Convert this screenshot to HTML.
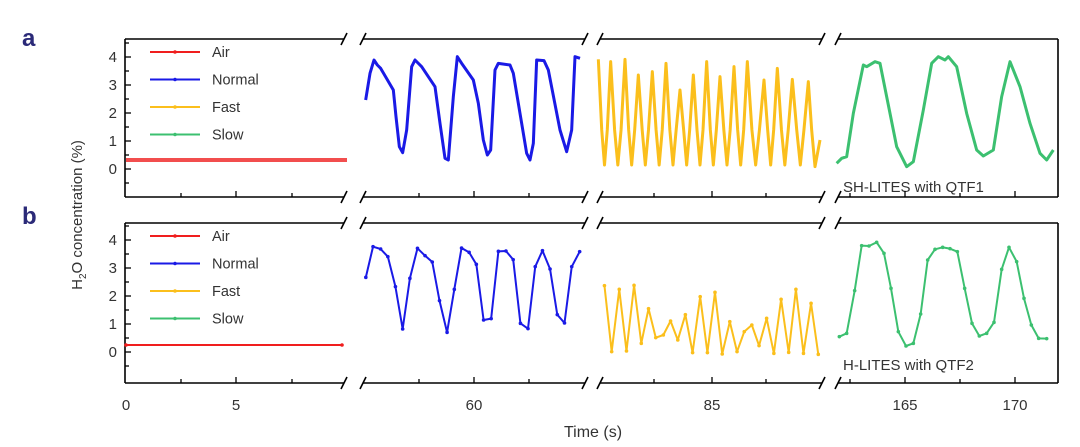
<!DOCTYPE html>
<html><head><meta charset="utf-8"><style>
body{margin:0;background:#fff}
svg{display:block;font-family:"Liberation Sans",sans-serif}
</style></head><body>
<svg id="s" width="1080" height="447" viewBox="0 0 1080 447" xmlns="http://www.w3.org/2000/svg">
<text x="22" y="46" font-size="24" font-weight="bold" fill="#2b2a78">a</text>
<text x="22" y="224" font-size="24" font-weight="bold" fill="#2b2a78">b</text>
<text transform="translate(82,215) rotate(-90)" font-size="15" fill="#333" text-anchor="middle">H<tspan font-size="10" dy="4">2</tspan><tspan dy="-4">O concentration (%)</tspan></text>
<text x="593" y="437" font-size="16" fill="#333" text-anchor="middle">Time (s)</text>
<g font-size="15" fill="#333" text-anchor="middle">
<text x="126" y="410">0</text><text x="236" y="410">5</text><text x="474" y="410">60</text><text x="712" y="410">85</text><text x="905" y="410">165</text><text x="1015" y="410">170</text>
</g>
<text x="843" y="192" font-size="15" fill="#333">SH-LITES with QTF1</text>
<text x="843" y="370" font-size="15" fill="#333">H-LITES with QTF2</text>
<g id="g"></g>
</svg>
<script>
const g=document.getElementById('g');let h='';
const segs=[[125,344],[363,585],[600,822],[838,1058]];
const col={r:'#f01e1e',b:'#1a1ae6',y:'#fbbf1c',gr:'#3cc070'};
function panel(top,bot,y4){
 const u=28;const y0=y4+4*u;
 h+=`<line x1="125" y1="${top}" x2="125" y2="${bot}" stroke="#000" stroke-width="1.6"/>`;
 h+=`<line x1="1058" y1="${top}" x2="1058" y2="${bot}" stroke="#000" stroke-width="1.6"/>`;
 for(let v=-0.5;v<=4.5;v+=0.5){const y=y0-v*u;if(y<top+2)continue;const maj=Number.isInteger(v);
  h+=`<line x1="125" y1="${y}" x2="${maj?131:129}" y2="${y}" stroke="#000" stroke-width="1.3"/>`;
  if(maj&&v>=0)h+=`<text x="117" y="${y+5}" font-size="15" fill="#333" text-anchor="end">${v}</text>`;}
 for(const [a,b] of segs){for(const y of [top,bot]){
  h+=`<line x1="${a}" y1="${y}" x2="${b}" y2="${y}" stroke="#000" stroke-width="1.6"/>`;
  if(a>125)h+=`<line x1="${a-3}" y1="${y+6}" x2="${a+3}" y2="${y-6}" stroke="#000" stroke-width="1.6"/>`;
  if(b<1058)h+=`<line x1="${b-3}" y1="${y+6}" x2="${b+3}" y2="${y-6}" stroke="#000" stroke-width="1.6"/>`;}}
 const mj=[236,474,712,905,1015],mn=[181,292,419,529,654,766,850,960];
 for(const x of mj)h+=`<line x1="${x}" y1="${bot}" x2="${x}" y2="${bot-6}" stroke="#000" stroke-width="1.3"/>`;
 for(const x of mn)h+=`<line x1="${x}" y1="${bot}" x2="${x}" y2="${bot-4}" stroke="#000" stroke-width="1.3"/>`;
 const L=[['Air',col.r],['Normal',col.b],['Fast',col.y],['Slow',col.gr]];
 L.forEach((l,i)=>{const y=top+13+i*27.5;
  h+=`<line x1="150" y1="${y}" x2="200" y2="${y}" stroke="${l[1]}" stroke-width="2"/><circle cx="175" cy="${y}" r="1.8" fill="${l[1]}"/>`;
  h+=`<text x="212" y="${y+5}" font-size="14.5" fill="#333">${l[0]}</text>`;});
}
function poly(pts,c,w,dots){h+=`<polyline points="${pts.map(p=>p.join(',')).join(' ')}" fill="none" stroke="${c}" stroke-width="${w}" stroke-linejoin="round"/>`;
 if(dots)for(const p of pts)h+=`<circle cx="${p[0]}" cy="${p[1]}" r="1.8" fill="${c}"/>`;}
function T(arr,ox,oy,sx,sy){sx=sx||3;sy=sy||3;return arr.map(p=>[ox+p[0]/sx,oy+p[1]/sy]);}
panel(39,197,57);
panel(223,383,240);
// panel a
h+=`<line x1="126" y1="160" x2="347" y2="160" stroke="#f03030" stroke-width="4" opacity="0.85"/>`;
poly(T([[77,210],[90,130],[102,90],[112,105],[122,115],[160,180],[168,260],[178,350],[188,368],[200,300],[215,110],[225,90],[245,110],[285,170],[300,280],[315,385],[325,390],[340,200],[352,80],[365,100],[400,150],[415,220],[430,330],[442,375],[452,360],[465,120],[475,100],[510,105],[520,130],[540,250],[560,370],[570,390],[580,340],[590,90],[612,92],[625,120],[660,300],[680,365],[695,300],[705,80],[720,85]],340,30),col.b,3,false);
(function(){const pk=[775,812,855,895,937,978,1020,1060,1100,1140,1182,1222,1272,1312,1357,1405],py=[88,95,88,135,125,100,180,135,95,140,110,95,150,115,148,155];
let pts=[];for(let i=0;i<pk.length;i++){pts.push([pk[i],py[i]]);const nx=i<pk.length-1?pk[i+1]:1440;const m=(pk[i]+nx)/2;
 if(i<pk.length-1){pts.push([pk[i]+(m-pk[i])*0.55,300]);pts.push([m,405]);pts.push([nx-(nx-m)*0.55,300]);}
 else{pts.push([1415,300]);pts.push([1425,410]);pts.push([1440,330]);}}
poly(T(pts,340,30),col.y,3,false);})();
poly(T([[50,400],[65,385],[80,380],[100,250],[130,105],[140,110],[165,95],[180,100],[200,200],[230,350],[260,410],[280,395],[310,240],[335,100],[355,80],[375,90],[385,80],[410,110],[440,250],[470,360],[490,378],[520,360],[545,200],[570,95],[600,170],[630,280],[660,370],[680,390],[700,360]],820,30),col.gr,3,false);
// panel b
poly([[126,345],[342,345]],col.r,2,true);
const SX=2.904;
poly(T([[104,262],[125,170],[147,177],[168,200],[190,290],[211,417],[232,265],[254,175],[276,197],[297,216],[318,332],[340,427],[361,298],[382,174],[404,187],[425,223],[446,390],[468,386],[489,184],[511,183],[532,209],[553,400],[575,416],[596,230],[617,182],[639,237],[660,374],[681,399],[702,230],[725,185]],330,190,SX,3),col.b,2,true);
poly(T([[797,287],[818,485],[840,298],[861,483],[883,286],[904,460],[925,356],[946,443],[968,435],[989,393],[1010,450],[1032,374],[1053,488],[1075,320],[1096,488],[1118,307],[1139,492],[1161,395],[1182,485],[1203,425],[1225,405],[1246,467],[1268,385],[1289,490],[1310,328],[1332,487],[1353,298],[1375,490],[1397,340],[1418,493]],330,190,SX,3),col.y,2,true);
poly(T([[58,350],[80,340],[104,212],[125,77],[147,78],[170,67],[192,100],[213,205],[235,335],[258,378],[280,370],[302,282],[323,120],[345,88],[368,82],[390,86],[412,95],[434,205],[456,310],[478,348],[500,340],[522,307],[545,148],[567,82],[590,125],[612,235],[634,315],[656,355],[680,356]],820,220),col.gr,2,true);
g.innerHTML=h;
</script>
</body></html>
